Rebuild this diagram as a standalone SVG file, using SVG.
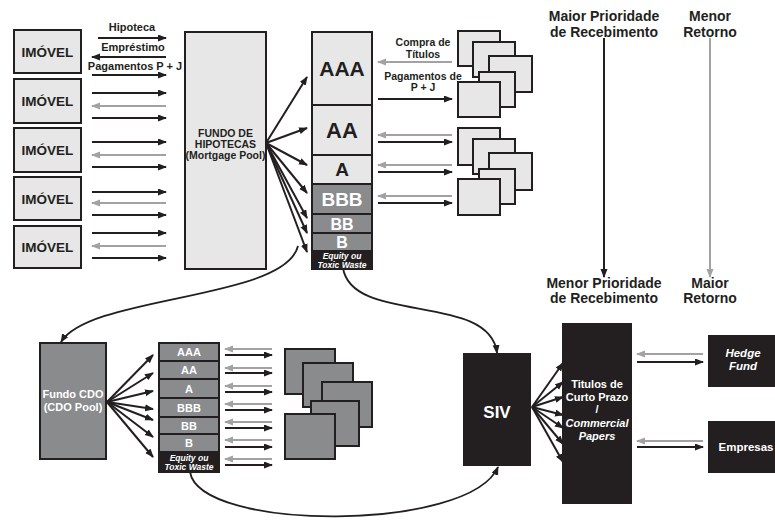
<svg xmlns="http://www.w3.org/2000/svg" width="775" height="521" viewBox="0 0 775 521">
<defs>
<marker id="ab" markerUnits="userSpaceOnUse" markerWidth="10" markerHeight="8" refX="8" refY="3.5" orient="auto"><path d="M0,0 L9,3.5 L0,7 z" fill="#231f20"/></marker>
<marker id="ag" markerUnits="userSpaceOnUse" markerWidth="10" markerHeight="8" refX="8" refY="3.5" orient="auto"><path d="M0,0 L9,3.5 L0,7 z" fill="#a2a2a4"/></marker>
</defs>
<style>
text{font-family:"Liberation Sans",Arial,sans-serif;font-weight:bold;fill:#231f20;text-anchor:middle}
.w{fill:#fff}
.it{font-style:italic}
.lb{fill:#e7e7e8;stroke:#231f20;stroke-width:2}
.md{fill:#8a8b8d;stroke:#231f20;stroke-width:2}
.dk{fill:#231f20;stroke:#231f20;stroke-width:2}
.b{stroke:#231f20;stroke-width:2;fill:none;marker-end:url(#ab)}
.g{stroke:#a2a2a4;stroke-width:2;fill:none;marker-end:url(#ag)}
.c{stroke:#231f20;stroke-width:1.8;fill:none;marker-end:url(#ab)}
</style>

<g id="imovel1"><rect class="lb" x="14" y="30" width="67" height="43"/><text x="47.5" y="56.5" font-size="13.5">IMÓVEL</text></g>
<g id="imovel2"><rect class="lb" x="14" y="79" width="67" height="44"/><text x="47.5" y="106" font-size="13.5">IMÓVEL</text></g>
<g id="imovel3"><rect class="lb" x="14" y="128" width="67" height="44"/><text x="47.5" y="155" font-size="13.5">IMÓVEL</text></g>
<g id="imovel4"><rect class="lb" x="14" y="177" width="67" height="43"/><text x="47.5" y="203.5" font-size="13.5">IMÓVEL</text></g>
<g id="imovel5"><rect class="lb" x="14" y="226" width="67" height="42"/><text x="47.5" y="252" font-size="13.5">IMÓVEL</text></g>

<g id="labels-top">
<text x="132" y="31" font-size="11">Hipoteca</text>
<text x="133" y="51" font-size="11">Empréstimo</text>
<text x="135" y="70" font-size="11">Pagamentos P + J</text>
<text x="423" y="46" font-size="10.5">Compra de</text>
<text x="423" y="57.5" font-size="10.5">Títulos</text>
<text x="423" y="79.5" font-size="10.5">Pagamentos de</text>
<text x="423" y="91" font-size="10.5">P + J</text>
</g>

<g id="fundo-hipotecas"><rect class="lb" x="185" y="32" width="81" height="237"/>
<text x="225.5" y="137" font-size="10.5">FUNDO DE</text>
<text x="225.5" y="148" font-size="10.5">HIPOTECAS</text>
<text x="225.5" y="159" font-size="10.5">(Mortgage Pool)</text></g>

<g id="tranches-mbs">
<rect class="lb" x="312" y="32" width="60" height="73"/>
<rect class="lb" x="312" y="105" width="60" height="50"/>
<rect class="lb" x="312" y="155" width="60" height="29"/>
<rect class="md" x="312" y="184" width="60" height="30"/>
<rect class="md" x="312" y="214" width="60" height="19"/>
<rect class="md" x="312" y="233" width="60" height="18"/>
<rect class="dk" x="312" y="251" width="60" height="18"/>
<text x="342" y="76" font-size="21">AAA</text>
<text x="342" y="138" font-size="22">AA</text>
<text x="342" y="176" font-size="19">A</text>
<text class="w" x="342" y="206" font-size="19">BBB</text>
<text class="w" x="342" y="229.5" font-size="16">BB</text>
<text class="w" x="342" y="248" font-size="16">B</text>
<text class="w it" x="342" y="258.5" font-size="8.5">Equity ou</text>
<text class="w it" x="342" y="267.5" font-size="8.5">Toxic Waste</text>
</g>

<g id="titulos-stack-1">
<rect class="lb" x="458" y="31" width="42" height="35"/>
<rect class="lb" x="473" y="42" width="42" height="35"/>
<rect class="lb" x="489" y="56" width="43" height="36"/>
<rect class="lb" x="479" y="72" width="36" height="35"/>
<rect class="lb" x="458" y="82" width="42" height="35"/>
</g>
<g id="titulos-stack-2">
<rect class="lb" x="458" y="128" width="42" height="37"/>
<rect class="lb" x="473" y="139" width="42" height="35"/>
<rect class="lb" x="489" y="153" width="43" height="37"/>
<rect class="lb" x="479" y="169" width="36" height="35"/>
<rect class="lb" x="458" y="179" width="42" height="36"/>
</g>

<g id="priority-labels">
<text x="604" y="21" font-size="14">Maior Prioridade</text>
<text x="604" y="37" font-size="14">de Recebimento</text>
<text x="710" y="21" font-size="14">Menor</text>
<text x="710" y="37" font-size="14">Retorno</text>
<text x="604" y="288" font-size="14">Menor Prioridade</text>
<text x="604" y="303" font-size="14">de Recebimento</text>
<text x="710" y="288" font-size="14">Maior</text>
<text x="710" y="303" font-size="14">Retorno</text>
</g>

<g id="fundo-cdo"><rect class="md" x="40" y="343" width="66" height="116"/>
<text class="w" x="73" y="398" font-size="11">Fundo CDO</text>
<text class="w" x="73" y="411" font-size="11">(CDO Pool)</text></g>

<g id="tranches-cdo">
<rect class="md" x="159" y="343" width="60" height="18"/>
<rect class="md" x="159" y="361" width="60" height="18"/>
<rect class="md" x="159" y="379" width="60" height="19"/>
<rect class="md" x="159" y="398" width="60" height="19"/>
<rect class="md" x="159" y="417" width="60" height="17"/>
<rect class="md" x="159" y="434" width="60" height="18"/>
<rect class="dk" x="159" y="452" width="60" height="20"/>
<text class="w" x="189" y="356" font-size="11">AAA</text>
<text class="w" x="189" y="374" font-size="11">AA</text>
<text class="w" x="189" y="392.5" font-size="11">A</text>
<text class="w" x="189" y="411.5" font-size="11">BBB</text>
<text class="w" x="189" y="429.5" font-size="11">BB</text>
<text class="w" x="189" y="447" font-size="11">B</text>
<text class="w it" x="189" y="460.5" font-size="8.5">Equity ou</text>
<text class="w it" x="189" y="470" font-size="8.5">Toxic Waste</text>
</g>

<g id="cdo-stack">
<rect class="md" x="285" y="349" width="50" height="45"/>
<rect class="md" x="303" y="363" width="50" height="44"/>
<rect class="md" x="322" y="382" width="50" height="45"/>
<rect class="md" x="311" y="401" width="48" height="45"/>
<rect class="md" x="285" y="414" width="50" height="45"/>
</g>

<g id="siv"><rect class="dk" x="464" y="354" width="66" height="111"/>
<text class="w" x="497" y="418" font-size="17">SIV</text></g>

<g id="titulos-curto-prazo"><rect class="dk" x="563" y="324" width="68" height="179"/>
<text class="w" x="597" y="388" font-size="11">Titulos de</text>
<text class="w" x="597" y="401" font-size="11">Curto Prazo</text>
<text class="w" x="597" y="413" font-size="11">/</text>
<text class="w it" x="597" y="427" font-size="11">Commercial</text>
<text class="w it" x="597" y="440" font-size="11">Papers</text></g>

<g id="hedge-fund"><rect class="dk" x="709" y="336" width="70" height="50"/>
<text class="w it" x="743" y="357" font-size="11.5">Hedge</text>
<text class="w it" x="743" y="370" font-size="11.5">Fund</text></g>

<g id="empresas"><rect class="dk" x="709" y="422" width="70" height="50"/>
<text class="w" x="746" y="451" font-size="11.5">Empresas</text></g>

<g id="connectors">
<line class="b" x1="98" y1="38" x2="166" y2="38"/>
<line class="b" x1="166" y1="57" x2="92" y2="57"/>
<line class="b" x1="92" y1="75" x2="166" y2="75"/>
<line class="b" x1="92" y1="93" x2="166" y2="93"/>
<line class="g" x1="166" y1="106" x2="92" y2="106"/>
<line class="b" x1="92" y1="118" x2="166" y2="118"/>
<line class="b" x1="92" y1="142" x2="166" y2="142"/>
<line class="g" x1="166" y1="155" x2="92" y2="155"/>
<line class="b" x1="92" y1="167" x2="166" y2="167"/>
<line class="b" x1="92" y1="192" x2="166" y2="192"/>
<line class="g" x1="166" y1="203" x2="92" y2="203"/>
<line class="b" x1="92" y1="215" x2="166" y2="215"/>
<line class="b" x1="92" y1="233" x2="166" y2="233"/>
<line class="g" x1="166" y1="246" x2="92" y2="246"/>
<line class="b" x1="92" y1="258" x2="166" y2="258"/>

<line class="b" x1="266" y1="143" x2="307" y2="77"/>
<line class="b" x1="266" y1="143" x2="307" y2="128"/>
<line class="b" x1="266" y1="143" x2="307" y2="165"/>
<line class="b" x1="266" y1="143" x2="307" y2="193"/>
<line class="b" x1="266" y1="143" x2="307" y2="218"/>
<line class="b" x1="266" y1="143" x2="307" y2="233"/>
<line class="b" x1="266" y1="143" x2="307" y2="252"/>

<line class="g" x1="452" y1="62" x2="378" y2="62"/>
<line class="b" x1="378" y1="99" x2="452" y2="99"/>
<line class="g" x1="452" y1="135" x2="378" y2="135"/>
<line class="b" x1="378" y1="142" x2="452" y2="142"/>
<line class="g" x1="452" y1="165" x2="378" y2="165"/>
<line class="b" x1="378" y1="172" x2="452" y2="172"/>
<line class="g" x1="452" y1="196" x2="378" y2="196"/>
<line class="b" x1="378" y1="203" x2="452" y2="203"/>

<line class="b" x1="604" y1="38" x2="604" y2="277"/>
<line class="g" x1="710" y1="38" x2="710" y2="277"/>

<path class="c" d="M298,246 C285,300 90,295 61,342"/>
<path class="c" d="M343,268 C352,325 490,292 497,353"/>
<path class="c" d="M190,472 C200,532 470,532 498,467"/>

<line class="b" x1="107" y1="402" x2="153" y2="355"/>
<line class="b" x1="107" y1="402" x2="153" y2="373"/>
<line class="b" x1="107" y1="402" x2="153" y2="391"/>
<line class="b" x1="107" y1="402" x2="153" y2="409"/>
<line class="b" x1="107" y1="402" x2="153" y2="420"/>
<line class="b" x1="107" y1="402" x2="153" y2="437"/>
<line class="b" x1="107" y1="402" x2="153" y2="457"/>

<line class="g" x1="272" y1="349" x2="225" y2="349"/>
<line class="b" x1="225" y1="355" x2="272" y2="355"/>
<line class="g" x1="272" y1="368" x2="225" y2="368"/>
<line class="b" x1="225" y1="373" x2="272" y2="373"/>
<line class="g" x1="272" y1="386" x2="225" y2="386"/>
<line class="b" x1="225" y1="392" x2="272" y2="392"/>
<line class="g" x1="272" y1="404" x2="225" y2="404"/>
<line class="b" x1="225" y1="410" x2="272" y2="410"/>
<line class="g" x1="272" y1="422" x2="225" y2="422"/>
<line class="b" x1="225" y1="428" x2="272" y2="428"/>
<line class="g" x1="272" y1="440" x2="225" y2="440"/>
<line class="b" x1="225" y1="447" x2="272" y2="447"/>
<line class="g" x1="272" y1="459" x2="225" y2="459"/>
<line class="b" x1="225" y1="465" x2="272" y2="465"/>

<line class="b" x1="532" y1="407" x2="563" y2="363"/>
<line class="b" x1="532" y1="407" x2="563" y2="382"/>
<line class="b" x1="532" y1="407" x2="563" y2="397"/>
<line class="b" x1="532" y1="407" x2="563" y2="415"/>
<line class="b" x1="532" y1="407" x2="563" y2="428"/>
<line class="b" x1="532" y1="407" x2="563" y2="444"/>
<line class="b" x1="532" y1="407" x2="563" y2="462"/>

<line class="g" x1="703" y1="354" x2="637" y2="354"/>
<line class="b" x1="637" y1="362" x2="703" y2="362"/>
<line class="g" x1="703" y1="441" x2="637" y2="441"/>
<line class="b" x1="637" y1="447" x2="703" y2="447"/>
</g>
</svg>
